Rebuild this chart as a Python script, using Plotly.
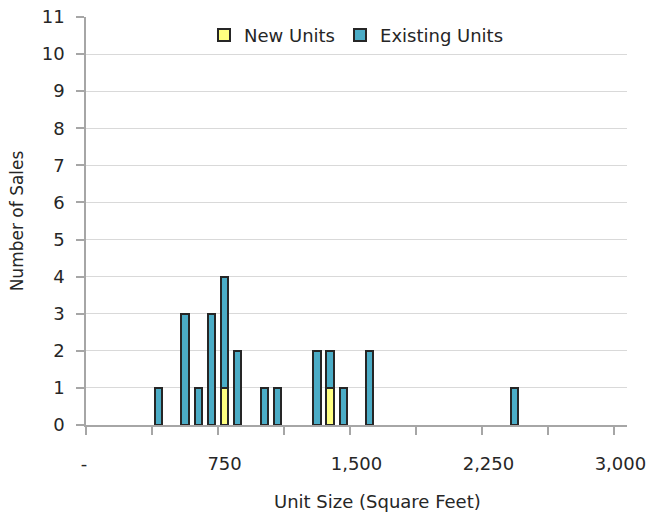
import plotly.graph_objects as go

# Histogram of unit sales, binned by unit size in 75 sq ft steps
BIN_WIDTH = 75
MAX_SIZE = 3000

existing_bins = [375, 525, 600, 675, 750, 825, 975, 1050, 1275, 1350, 1425, 1575, 2400]
existing_counts = [1, 3, 1, 3, 3, 2, 1, 1, 2, 1, 1, 2, 1]
new_bins = [750, 1350]
new_counts = [1, 1]

y_max = 11
TICK_EVERY = 5    # categories between tick marks
LABEL_EVERY = 10  # categories between tick labels


def fmt(v):
    """Accounting-style label: zero shows as a dash."""
    return "-" if v == 0 else f"{v:,}"


categories = [fmt(v) for v in range(0, MAX_SIZE + 1, BIN_WIDTH)]

# blank the tick marks that carry no label, pad the dash like an accounting cell
alias = {"-": "-\u00a0\u00a0\u00a0"}
for i, c in enumerate(categories):
    if i % TICK_EVERY == 0 and i % LABEL_EVERY != 0:
        alias[c] = " "

OUTLINE = dict(color="#262626", width=2)
AXIS_GREY = "#a6a6a6"
FONT = "DejaVu Sans"

fig = go.Figure()
fig.add_bar(
    x=[fmt(v) for v in new_bins], y=new_counts, name="New Units",
    marker=dict(color="#FFFF80", line=OUTLINE),
)
fig.add_bar(
    x=[fmt(v) for v in existing_bins], y=existing_counts, name="Existing Units",
    marker=dict(color="#4BACC6", line=OUTLINE),
)

fig.update_layout(
    width=654, height=512,
    margin=dict(l=86, r=27, t=17, b=87, autoexpand=False),
    barmode="stack", bargap=0.45,
    plot_bgcolor="white", paper_bgcolor="white",
    font=dict(family=FONT, size=18, color="#262626"),
    legend=dict(
        orientation="h", x=0.5, xanchor="center", y=0.955, yanchor="middle",
        traceorder="normal",
        bgcolor="rgba(0,0,0,0)", font=dict(size=18),
    ),
    annotations=[dict(
        text="Unit Size (Square Feet)", xref="paper", yref="paper",
        x=0.539, y=0, xanchor="center", yanchor="top", yshift=-64,
        showarrow=False, font=dict(size=18),
    )],
)

fig.update_xaxes(
    type="category", categoryorder="array", categoryarray=categories,
    range=[-0.5, len(categories) - 0.5],
    tickmode="linear", tick0=0, dtick=TICK_EVERY, tickson="boundaries",
    labelalias=alias, tickangle=0, automargin=False,
    ticks="outside", ticklen=8, tickcolor=AXIS_GREY, tickwidth=1.5,
    showline=True, linecolor=AXIS_GREY, linewidth=1.5,
    showgrid=False, ticklabelstandoff=22,
)
fig.update_yaxes(
    range=[0, y_max], tickmode="linear", tick0=0, dtick=1,
    showgrid=True, gridcolor="#d9d9d9", gridwidth=1,
    ticks="outside", ticklen=8, tickcolor=AXIS_GREY, tickwidth=1.5,
    showline=True, linecolor=AXIS_GREY, linewidth=1.5, zeroline=False,
    ticklabelstandoff=8, automargin=False,
    title=dict(text="Number of Sales", font=dict(size=17), standoff=14),
)

fig.write_html("out.html")
